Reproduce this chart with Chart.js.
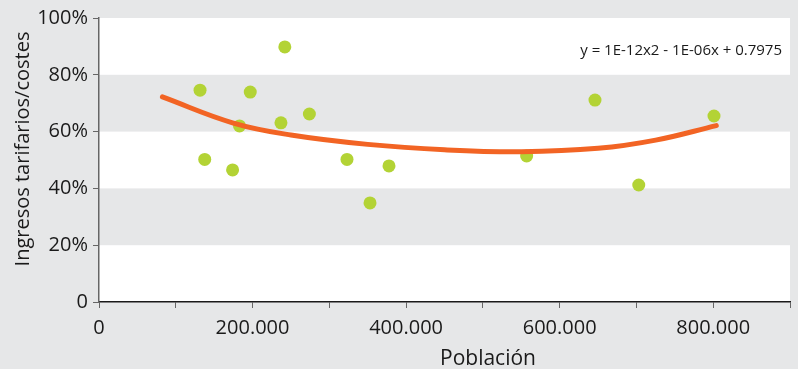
<!DOCTYPE html>
<html>
<head>
<meta charset="utf-8">
<script src="https://cdn.jsdelivr.net/npm/chart.js@4"></script>
<style>
  html, body { margin: 0; padding: 0; background: #e6e7e8; }
  canvas { display: block; }
</style>
</head>
<body>
<canvas id="chart" width="798" height="369"></canvas>
<script>
// puntos (población, ingresos tarifarios / costes en %)
const poblacion = [131600, 137700, 174000, 183000, 197000, 237000, 242000, 274000, 323000, 353000, 377700, 557000, 646000, 703000, 801000];
const ratio = [74.6, 50.2, 46.5, 62.0, 73.9, 63.1, 89.8, 66.2, 50.2, 34.9, 47.9, 51.4, 71.1, 41.2, 65.5];

// línea de tendencia
const trendX = [82600, 175000, 250000, 350000, 450000, 550000, 650000, 725000, 804000];
const trendY = [72.2, 63.0, 58.8, 55.5, 53.6, 52.9, 54.1, 57.0, 62.1];

const yTicks = [0, 20, 40, 60, 80, 100];
const grayBands = [[20, 40], [60, 80]];
const equation = 'y = 1E-12x2 - 1E-06x + 0.7975';
const xTitle = 'Población';
const yTitle = 'Ingresos tarifarios/costes';

const FONT = "'Open Sans', 'Noto Sans', sans-serif";

const bandsPlugin = {
  id: 'bands',
  beforeDraw(chart) {
    const { ctx, chartArea: a, scales: { y } } = chart;
    ctx.save();
    ctx.fillStyle = '#ffffff';
    ctx.fillRect(a.left, a.top, a.right - a.left, a.bottom - a.top);
    ctx.fillStyle = '#e6e7e8';
    grayBands.forEach(([lo, hi]) => {
      const top = y.getPixelForValue(hi);
      const bot = y.getPixelForValue(lo);
      ctx.fillRect(a.left, top, a.right - a.left, bot - top);
    });
    ctx.restore();
  },
  afterDraw(chart) {
    const { ctx, chartArea: a } = chart;
    ctx.save();
    ctx.fillStyle = '#1a1a1a';
    // ecuación
    ctx.font = '15px ' + FONT;
    ctx.textAlign = 'right';
    ctx.textBaseline = 'alphabetic';
    ctx.fillText(equation, a.right - 8, a.top + 37);
    // título eje x
    ctx.font = '21px ' + FONT;
    ctx.textAlign = 'center';
    ctx.fillText(xTitle, 488, 365);
    // título eje y
    ctx.font = '20px ' + FONT;
    ctx.translate(29, 149);
    ctx.rotate(-Math.PI / 2);
    ctx.fillText(yTitle, 0, 0);
    ctx.restore();
  }
};

new Chart(document.getElementById('chart'), {
  type: 'scatter',
  data: {
    datasets: [
      {
        type: 'line',
        data: trendX.map((x, i) => ({ x: x, y: trendY[i] })),
        borderColor: '#f26424',
        borderWidth: 5,
        borderCapStyle: 'round',
        pointRadius: 0,
        tension: 0.4,
        fill: false
      },
      {
        data: poblacion.map((x, i) => ({ x: x, y: ratio[i] })),
        backgroundColor: '#b3d335',
        borderWidth: 0,
        pointRadius: 6.5
      }
    ]
  },
  options: {
    responsive: false,
    animation: false,
    layout: { padding: { top: 18, right: 0, left: 0, bottom: 0 } },
    plugins: {
      legend: { display: false },
      tooltip: { enabled: false }
    },
    scales: {
      x: {
        type: 'linear',
        min: 0,
        max: 900000,
        afterFit(scale) { scale.height = 67; },
        border: { color: '#1a1a1a', width: 1.5 },
        grid: { drawOnChartArea: false, tickLength: 6, color: '#666666' },
        ticks: {
          stepSize: 100000,
          color: '#1a1a1a',
          padding: 8,
          maxRotation: 0,
          autoSkip: false,
          font: { family: FONT, size: 20 },
          callback: (v) => v % 200000 === 0 ? String(v).replace(/\B(?=(\d{3})+(?!\d))/g, '.') : ''
        }
      },
      y: {
        min: 0,
        max: 100,
        afterFit(scale) { scale.width = 99; },
        afterBuildTicks(scale) { scale.ticks = yTicks.map(v => ({ value: v })); },
        border: { color: '#666666', width: 1.5 },
        grid: { drawOnChartArea: false, tickLength: 6, color: '#666666' },
        ticks: {
          color: '#1a1a1a',
          padding: 5,
          font: { family: FONT, size: 20 },
          callback: (v) => v === 0 ? '0' : v + '%'
        }
      }
    }
  },
  plugins: [bandsPlugin]
});
</script>
</body>
</html>
